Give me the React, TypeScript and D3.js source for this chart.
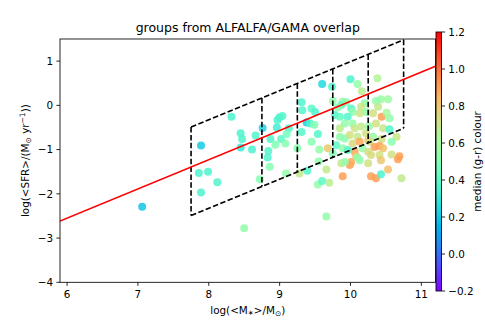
import React from "react";
import * as d3 from "d3";

const width = 485;
const height = 323;
const plotLeft = 60;
const plotRight = 435.5;
const plotTop = 39;
const plotBottom = 282.3;
const cbLeft = 436;
const cbWidth = 5.5;
const cbTop = 32;
const cbBottom = 291;

// log stellar mass of each group
const logMass = [
  7.06, 7.89, 8.32, 7.86, 7.99, 8.12, 7.89, 8.5, 8.72, 8.45,
  8.47, 8.45, 8.61, 8.66, 8.76, 8.84, 8.83, 8.86, 8.97, 9.0,
  9.04, 8.96, 8.87, 9.02, 8.94, 9.08, 9.13, 9.1, 9.25, 9.09,
  9.28, 9.31, 9.32, 9.45, 9.5, 9.38, 9.31, 9.43, 9.49, 9.54,
  9.45, 9.39, 9.6, 9.56, 9.55, 9.66, 9.54, 9.6, 9.7, 9.66,
  9.68, 10.0, 10.1, 10.16, 10.38, 9.74, 9.75, 9.89, 9.87, 9.94,
  10.01, 9.82, 10.2, 10.15, 10.36, 10.39, 10.43, 10.53, 10.44, 10.55,
  10.51, 10.32, 10.22, 10.13, 10.03, 9.96, 9.78, 9.85, 9.92, 9.85,
  10.03, 10.15, 10.06, 10.26, 10.36, 10.46, 10.55, 10.65, 10.58, 9.85,
  9.92, 9.99, 10.1, 10.22, 10.32, 10.44, 10.03, 10.13, 10.25, 10.27,
  10.34, 10.41, 10.46, 10.17, 9.8, 9.89, 9.96, 10.06, 10.08, 10.25,
  10.29, 10.41, 10.43, 10.58, 10.69, 10.67, 9.75, 9.87, 9.99, 10.01,
  10.13, 10.25, 9.89, 10.29, 10.36, 10.43, 10.53, 10.72, 9.92, 10.1,
];

// log SFR of each group
const logSfr = [
  -2.29, -0.91, -0.26, -1.53, -1.5, -1.74, -1.97, -2.78, -1.67, -0.63,
  -0.76, -0.95, -1.0, -0.68, -0.51, -1.03, -1.18, -1.39, -0.33, -0.27,
  -0.24, -0.5, -0.76, -0.76, -0.89, -0.86, -0.52, -0.65, -0.97, -1.54,
  -1.54, 0.07, -0.11, -0.07, -0.15, -0.39, -0.6, -0.41, -0.44, -0.65,
  -0.82, -1.48, 0.48, -1.0, -1.27, -1.45, -1.79, -1.71, -1.75, -2.51,
  -0.97, 0.59, 0.48, 0.32, 0.61, 0.42, 0.1, 0.08, 0.01, 0.07,
  -0.07, -0.05, 0.05, -0.03, 0.1, -0.03, 0.14, 0.14, -0.26, -0.29,
  -0.17, -0.18, -0.15, -0.18, -0.15, -0.26, -0.22, -0.26, -0.41, -0.52,
  -0.41, -0.48, -0.52, -0.48, -0.41, -0.52, -0.54, -0.71, -0.82, -0.71,
  -0.75, -0.67, -0.71, -0.63, -0.71, -0.76, -0.86, -0.82, -0.79, -0.82,
  -0.94, -0.92, -0.97, -0.97, -0.9, -0.97, -1.01, -1.05, -1.15, -1.05,
  -1.12, -1.12, -1.24, -1.11, -1.15, -1.22, -1.09, -1.31, -1.35, -1.28,
  -1.24, -1.31, -1.6, -1.6, -1.65, -1.56, -1.45, -1.65, -1.28, -1.18,
];

// median g-r colour of each group
const grColour = [
  0.2, 0.21, 0.36, 0.36, 0.36, 0.37, 0.36, 0.55, 0.52, 0.36,
  0.37, 0.3, 0.36, 0.38, 0.24, 0.38, 0.37, 0.52, 0.36, 0.36,
  0.38, 0.34, 0.38, 0.4, 0.5, 0.52, 0.38, 0.46, 0.52, 0.55,
  0.68, 0.37, 0.38, 0.4, 0.36, 0.22, 0.38, 0.36, 0.5, 0.38,
  0.52, 0.38, 0.25, 0.55, 0.55, 0.68, 0.55, 0.4, 0.66, 0.55,
  0.8, 0.36, 0.55, 0.66, 0.64, 0.38, 0.55, 0.55, 0.42, 0.52,
  0.38, 0.52, 0.55, 0.7, 0.55, 0.68, 0.57, 0.58, 0.9, 0.55,
  0.6, 0.72, 0.55, 0.7, 0.55, 0.38, 0.36, 0.42, 0.55, 0.66,
  0.55, 0.68, 0.7, 0.55, 0.72, 0.7, 0.38, 0.7, 0.52, 0.55,
  0.52, 0.72, 0.68, 0.72, 0.57, 0.72, 0.74, 0.88, 0.8, 0.72,
  0.9, 0.9, 0.82, 0.55, 0.4, 0.55, 0.38, 0.88, 0.8, 0.72,
  0.74, 0.72, 0.8, 0.72, 0.9, 0.9, 0.52, 0.68, 0.9, 0.88,
  0.55, 0.72, 0.9, 0.9, 0.9, 0.36, 0.82, 0.68, 0.55, 0.55,
];

// mass bin edges of the dashed selection boxes
const massBins = [7.75, 8.75, 9.25, 9.75, 10.25, 10.75];
const boxSlope = 0.657;
const boxIntercept = -6.582;
const boxHalfWidth = 1.0;

// red fit line
const fitSlope = 0.66;
const fitIntercept = -6.51;

const xTicks = [6, 7, 8, 9, 10, 11];
const yTicks = [-4, -3, -2, -1, 0, 1];
const cTicks = [-0.2, 0.0, 0.2, 0.4, 0.6, 0.8, 1.0, 1.2];

const font = "DejaVu Sans, sans-serif";
const minus = (s: string) => s.replace("-", "\u2212");

// matplotlib "rainbow"
function rainbow(t: number) {
  const c = (v: number) => Math.round(255 * Math.max(0, Math.min(1, v)));
  const r = Math.abs(2 * t - 0.5);
  const g = Math.sin(Math.PI * t);
  const b = Math.cos((Math.PI * t) / 2);
  return `rgb(${c(r)},${c(g)},${c(b)})`;
}

export default function App() {
  const x = d3.scaleLinear().domain([5.9, 11.2]).range([plotLeft, plotRight]);
  const y = d3.scaleLinear().domain([-4, 1.5]).range([plotBottom, plotTop]);
  const cNorm = d3.scaleLinear().domain([-0.2, 1.2]).range([0, 1]);
  const cY = d3.scaleLinear().domain([-0.2, 1.2]).range([cbBottom, cbTop]);

  const points = logMass.map((m, i) => ({ m, s: logSfr[i], c: grColour[i] }));

  const top = (m: number) => boxSlope * m + boxIntercept + boxHalfWidth;
  const bot = (m: number) => boxSlope * m + boxIntercept - boxHalfWidth;
  const lo = massBins[0];
  const hi = massBins[massBins.length - 1];
  const fit = (m: number) => fitSlope * m + fitIntercept;

  const stops = d3.range(0, 1.0001, 0.05);
  const dash = "5.5,2.4";

  return (
    <svg
      width={width}
      height={height}
      style={{ position: "absolute", left: 0, top: 0, background: "#fff" }}
      fontFamily={font}
    >
      <defs>
        <linearGradient id="cb" x1="0" y1="1" x2="0" y2="0">
          {stops.map((t) => (
            <stop key={t} offset={t} stopColor={rainbow(t)} />
          ))}
        </linearGradient>
        <clipPath id="plot">
          <rect x={plotLeft} y={plotTop} width={plotRight - plotLeft} height={plotBottom - plotTop} />
        </clipPath>
      </defs>

      <text x={(plotLeft + plotRight) / 2} y={32} fontSize={12.5} textAnchor="middle">
        groups from ALFALFA/GAMA overlap
      </text>

      <g clipPath="url(#plot)">
        {points.map((p, i) => (
          <circle
            key={i}
            cx={x(p.m)}
            cy={y(p.s)}
            r={4}
            fill={rainbow(cNorm(p.c))}
            fillOpacity={0.85}
          />
        ))}
        <path
          d={`M${x(lo)},${y(top(lo))}L${x(hi)},${y(top(hi))}M${x(lo)},${y(bot(lo))}L${x(hi)},${y(bot(hi))}`}
          stroke="#000"
          strokeWidth={1.6}
          strokeDasharray={dash}
          fill="none"
        />
        {massBins.map((m) => (
          <line
            key={m}
            x1={x(m)}
            x2={x(m)}
            y1={y(top(m))}
            y2={y(bot(m))}
            stroke="#000"
            strokeWidth={1.6}
            strokeDasharray={dash}
          />
        ))}
        <line
          x1={x(5.9)}
          x2={x(11.2)}
          y1={y(fit(5.9))}
          y2={y(fit(11.2))}
          stroke="#ff0000"
          strokeWidth={1.6}
        />
      </g>

      <rect
        x={plotLeft}
        y={plotTop}
        width={plotRight - plotLeft}
        height={plotBottom - plotTop}
        fill="none"
        stroke="#000"
        strokeWidth={0.85}
      />

      {xTicks.map((t) => (
        <g key={t} transform={`translate(${x(t)},${plotBottom})`}>
          <line y2={3.6} stroke="#000" strokeWidth={0.85} />
          <text y={16.2} fontSize={10.4} textAnchor="middle">
            {t}
          </text>
        </g>
      ))}
      {yTicks.map((t) => (
        <g key={t} transform={`translate(${plotLeft},${y(t)})`}>
          <line x2={-3.6} stroke="#000" strokeWidth={0.85} />
          <text x={-7} dy="0.36em" fontSize={10.4} textAnchor="end">
            {minus(String(t))}
          </text>
        </g>
      ))}

      <text x={(plotLeft + plotRight) / 2} y={314} fontSize={10.4} textAnchor="middle">
        log(&lt;M<tspan fontSize={7} dy={1}>∗</tspan>
        <tspan dy={-1}>&gt;/M</tspan>
        <tspan fontSize={7.5} dy={2}>⊙</tspan>
        <tspan dy={-2}>)</tspan>
      </text>

      <text
        transform={`translate(28.5,${(plotTop + plotBottom) / 2}) rotate(-90)`}
        fontSize={10.4}
        textAnchor="middle"
      >
        log(&lt;SFR&gt;/(M<tspan fontSize={7.5} dy={2}>⊙</tspan>
        <tspan dy={-2}> yr</tspan>
        <tspan fontSize={7.5} dy={-4}>−1</tspan>
        <tspan dy={4}>))</tspan>
      </text>

      <rect x={cbLeft} y={cbTop} width={cbWidth} height={cbBottom - cbTop} fill="url(#cb)" stroke="#000" strokeWidth={0.85} />
      {cTicks.map((t) => (
        <g key={t} transform={`translate(${cbLeft + cbWidth},${cY(t)})`}>
          <line x2={3.6} stroke="#000" strokeWidth={0.85} />
          <text x={6.8} dy="0.36em" fontSize={10.4}>
            {minus(t.toFixed(1))}
          </text>
        </g>
      ))}
      <text
        transform={`translate(481,${(cbTop + cbBottom) / 2}) rotate(-90)`}
        fontSize={10.4}
        textAnchor="middle"
      >
        median (g-r) colour
      </text>
    </svg>
  );
}
